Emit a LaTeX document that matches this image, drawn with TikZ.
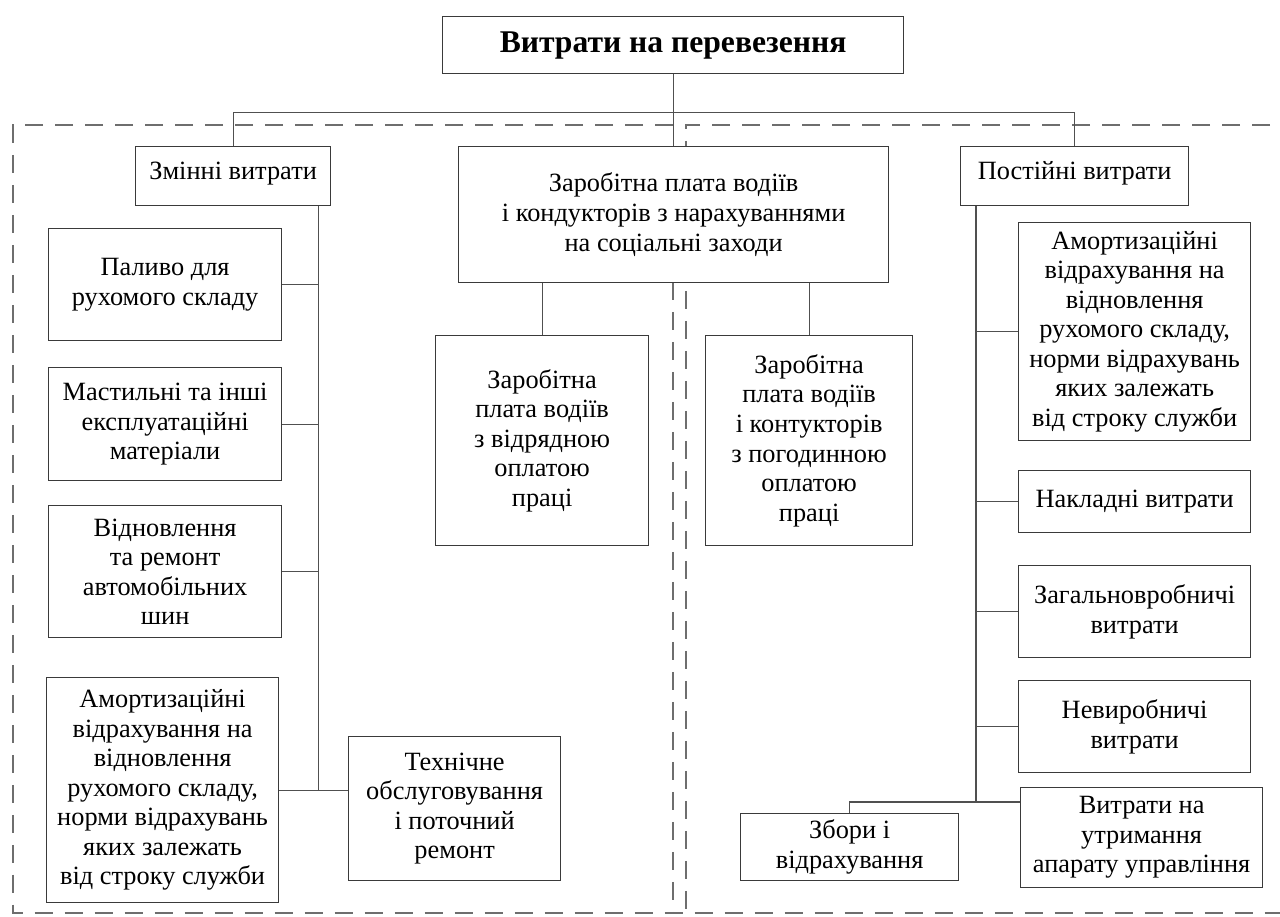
\documentclass[tikz,border=0pt]{standalone}
\usepackage{fontspec}
\setmainfont{Liberation Serif}
\usetikzlibrary{positioning,calc}
\definecolor{contorno}{HTML}{3A3A3A}
\definecolor{ligacao}{HTML}{505050}
\definecolor{tracejado}{HTML}{6E6E6E}
\tikzset{
  caixa/.style 2 args={draw=contorno, fill=white, line width=0.7pt, anchor=north west, align=center,
    inner sep=2pt, minimum width=#1*0.02cm, minimum height=#2*0.02cm,
    font=\fontsize{15pt}{16.8pt}\selectfont},
  titulo/.style={caixa={461}{57}, font=\fontsize{18pt}{20pt}\selectfont\bfseries},
  grupo/.style={text depth=6pt},
  liga/.style={draw=ligacao, line width=0.6pt},
  zona/.style={draw=tracejado, line width=0.6pt, dash pattern=on 0.36cm off 0.24cm},
}

\begin{document}
\begin{tikzpicture}[x=0.02cm, y=-0.02cm]
    \useasboundingbox (0,0) rectangle (1280,916);
    \draw[zona] (673,125) -- (13,125) -- (13,913) -- (1300,913);
    \draw[zona] (673,282) -- (673,913);
    \draw[zona] (1300,125) -- (686,125) -- (686,913);
    \node[titulo] (tit) at (442,16) {Витрати на перевезення};
    \node[caixa={195}{59}, grupo] (zm) at (135,146) {Змінні витрати};
    \node[caixa={430}{136}] (zp) at (458,146) {Заробітна плата водіїв\\і кондукторів з нарахуваннями\\на соціальні заходи};
    \node[caixa={228}{59}, grupo] (pv) at (960,146) {Постійні витрати};
    \node[caixa={233}{112}] (l1) at (48,228) {Паливо для\\рухомого складу};
    \node[caixa={233}{113}] (l2) at (48,367) {Мастильні та інші\\експлуатаційні\\матеріали};
    \node[caixa={233}{132}] (l3) at (48,505) {Відновлення\\та ремонт\\автомобільних\\шин};
    \node[caixa={232}{225}] (l4) at (46,677) {Амортизаційні\\відрахування на\\відновлення\\рухомого складу,\\норми відрахувань\\яких залежать\\від строку служби};
    \node[caixa={212}{144}] (tec) at (348,736) {Технічне\\обслуговування\\і поточний\\ремонт};
    \node[caixa={213}{210}] (m1) at (435,335) {Заробітна\\плата водіїв\\з відрядною\\оплатою\\праці};
    \node[caixa={207}{210}] (m2) at (705,335) {Заробітна\\плата водіїв\\і контукторів\\з погодинною\\оплатою\\праці};
    \node[caixa={232}{218}] (r1) at (1018,222) {Амортизаційні\\відрахування на\\відновлення\\рухомого складу,\\норми відрахувань\\яких залежать\\від строку служби};
    \node[caixa={232}{62}] (r2) at (1018,470) {Накладні витрати};
    \node[caixa={232}{92}] (r3) at (1018,565) {Загальновробничі\\витрати};
    \node[caixa={232}{92}] (r4) at (1018,680) {Невиробничі\\витрати};
    \node[caixa={242}{100}] (r5) at (1020,787) {Витрати на\\утримання\\апарату управління};
    \node[caixa={218}{67}] (zb) at (740,813) {Збори і\\відрахування};
    \coordinate (ramo) at ($(tit.south)+(0,38)$);
    \coordinate (el) at ($(zm.south east)+(-13,0)$);
    \coordinate (dr) at ($(pv.south west)+(16,0)$);
    \coordinate (fim) at ($(dr |- zb.north)+(0,-11)$);
    \draw[liga] (tit.south) -- (ramo);
    \draw[liga] (zm.north) |- (ramo) -| (pv.north);
    \draw[liga] (ramo) -- (ramo |- zp.north);
    \draw[liga] (el) -- (el |- l4.east);
    \foreach \c in {l1,l2,l3}
      \draw[liga] (\c.east) -- (\c.east -| el);
    \draw[liga] (l4.east) -- (l4.east -| tec.west);
    \foreach \c in {m1,m2}
      \draw[liga] (\c.north) -- (\c.north |- zp.south);
    \draw[liga] (dr) -- (fim);
    \foreach \c in {r1,r2,r3,r4}
      \draw[liga] (\c.west) -- (\c.west -| dr);
    \draw[liga] (zb.north) |- (fim) -- (fim -| r5.west);
\end{tikzpicture}
\end{document}
